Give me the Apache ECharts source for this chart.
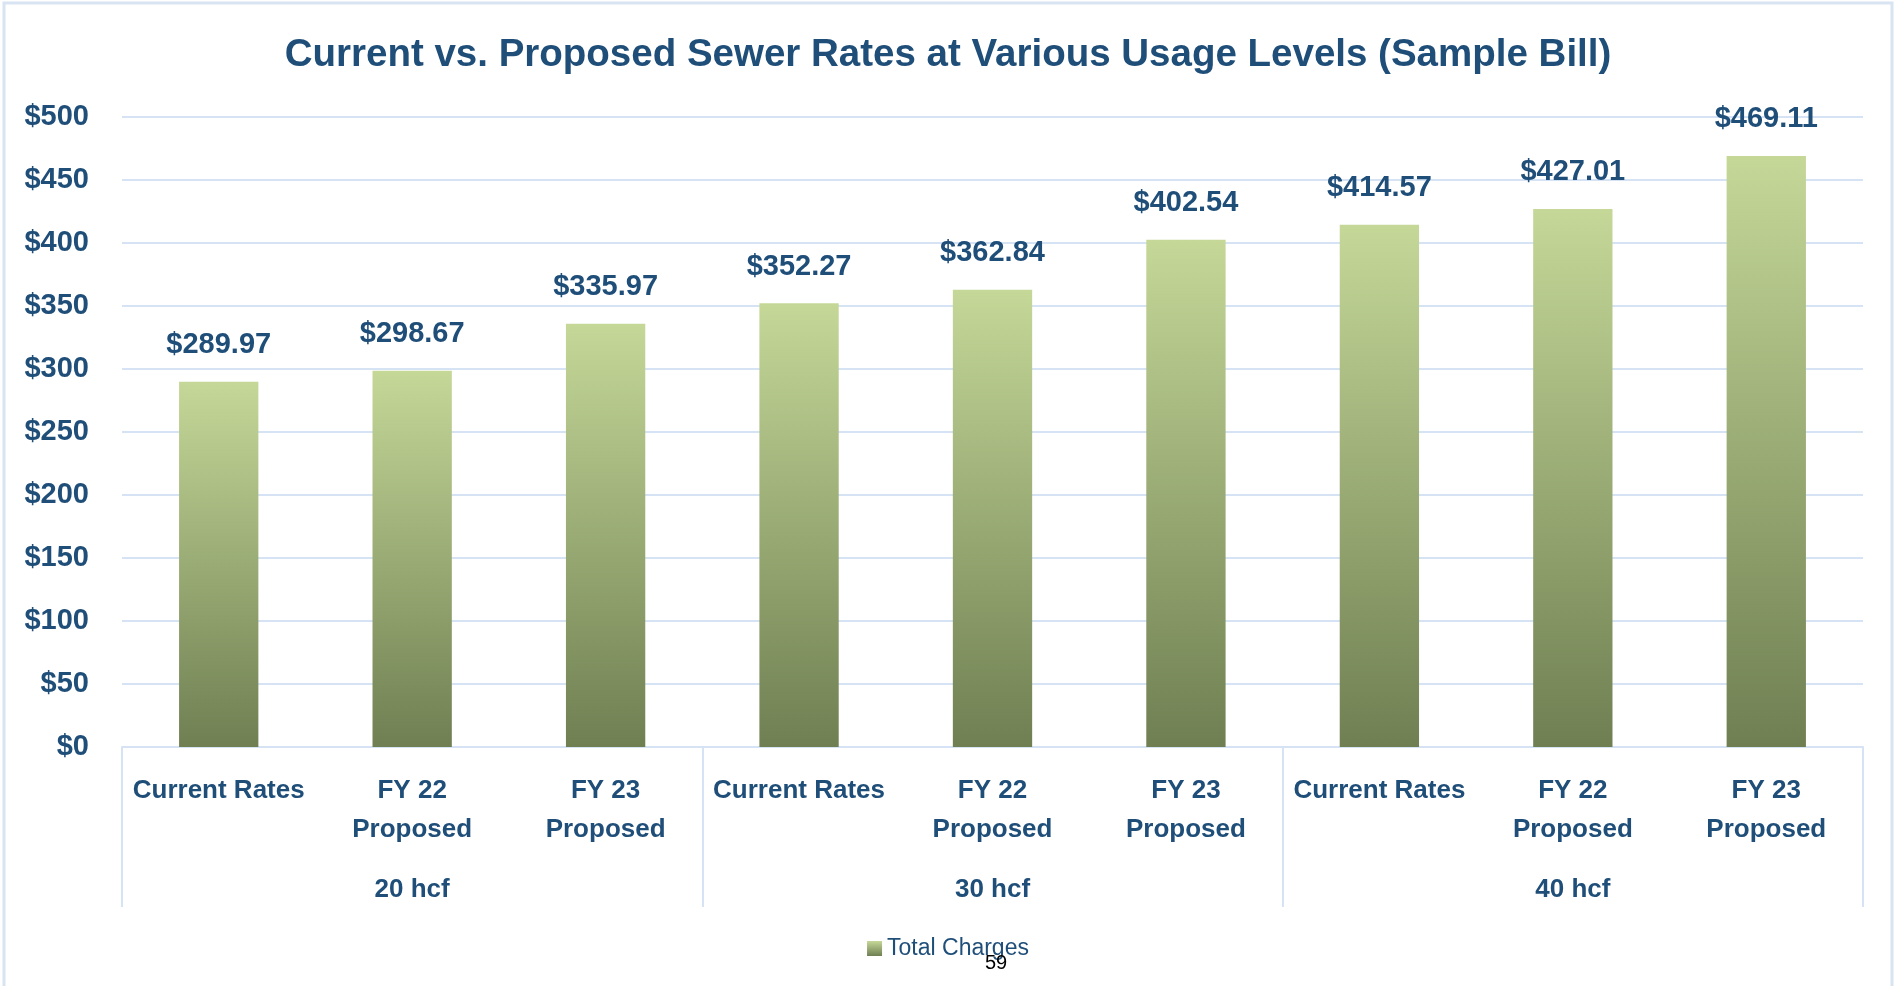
<!DOCTYPE html>
<html>
<head>
<meta charset="utf-8">
<script src="https://cdn.jsdelivr.net/npm/echarts@6/dist/echarts.min.js"></script>
<style>
  html, body { margin: 0; padding: 0; background: #fff; }
  #myChart { width: 1896px; height: 986px; }
</style>
</head>
<body>
<div id="myChart"></div>
<script>
// data
const categories = [
  "Current Rates", "FY 22\nProposed", "FY 23\nProposed",
  "Current Rates", "FY 22\nProposed", "FY 23\nProposed",
  "Current Rates", "FY 22\nProposed", "FY 23\nProposed",
];
const groups = ["20 hcf", "30 hcf", "40 hcf"];
const totalCharges = [289.97, 298.67, 335.97, 352.27, 362.84, 402.54, 414.57, 427.01, 469.11];
const yTicks = { min: 0, max: 500, interval: 50 };

const FONT = "'Liberation Sans', Arial, sans-serif";
const BLUE = "#1f4e79";
const LINE = "#d6e3f4";

let myChart = echarts.init(document.getElementById("myChart"));
myChart.setOption({
  backgroundColor: "#fff",
  textStyle: { fontFamily: FONT },
  title: {
    text: "Current vs. Proposed Sewer Rates at Various Usage Levels (Sample Bill)",
    left: "center",
    top: 31,
    textStyle: { fontFamily: FONT, fontSize: 38.5, fontWeight: "bold", color: BLUE },
  },
  legend: {
    data: ["Total Charges"],
    left: "center",
    top: 932,
    icon: "rect",
    itemWidth: 15,
    itemHeight: 15,
    itemGap: 6,
    textStyle: { fontFamily: FONT, fontSize: 23, color: BLUE },
  },
  grid: { left: 122, right: 33, top: 117, bottom: 239 },
  xAxis: [
    {
      type: "category",
      data: categories,
      axisLine: { lineStyle: { color: LINE, width: 2 } },
      axisTick: { show: false },
      axisLabel: {
        interval: 0,
        margin: 24,
        fontFamily: FONT,
        fontSize: 26,
        fontWeight: "bold",
        color: BLUE,
        lineHeight: 39,
      },
    },
    {
      // group row underneath: 20 / 30 / 40 hcf with long divider ticks
      type: "category",
      position: "bottom",
      data: groups,
      axisLine: { show: false },
      axisTick: { show: true, length: 160, lineStyle: { color: LINE, width: 2 } },
      axisLabel: {
        margin: 130,
        fontFamily: FONT,
        fontSize: 26,
        fontWeight: "bold",
        color: BLUE,
      },
    },
  ],
  yAxis: {
    type: "value",
    min: yTicks.min,
    max: yTicks.max,
    interval: yTicks.interval,
    axisLine: { show: false },
    axisTick: { show: false },
    splitLine: { lineStyle: { color: LINE, width: 2 } },
    axisLabel: {
      margin: 33,
      fontFamily: FONT,
      fontSize: 29,
      fontWeight: "bold",
      color: BLUE,
      formatter: (v) => "$" + v,
    },
  },
  series: [
    {
      name: "Total Charges",
      type: "bar",
      xAxisIndex: 0,
      data: totalCharges,
      barWidth: "41%",
      itemStyle: {
        color: new echarts.graphic.LinearGradient(0, 0, 0, 1, [
          { offset: 0, color: "#c5d898" },
          { offset: 1, color: "#6f7f52" },
        ]),
      },
      label: {
        show: true,
        position: "top",
        distance: 22,
        fontFamily: FONT,
        fontSize: 29,
        fontWeight: "bold",
        color: BLUE,
        formatter: (p) => "$" + p.value.toFixed(2),
      },
    },
  ],
  graphic: [
    {
      type: "rect",
      shape: { x: 4, y: 3, width: 1888, height: 990 },
      style: { fill: "none", stroke: "#d9e4f2", lineWidth: 3 },
      silent: true,
      z: -1,
    },
    {
      type: "text",
      left: 985,
      top: 953,
      style: { text: "59", fontFamily: "'Liberation Sans', Arial", fontSize: 20, fill: "#000" },
      z: 10,
    },
  ],
});
</script>
</body>
</html>
